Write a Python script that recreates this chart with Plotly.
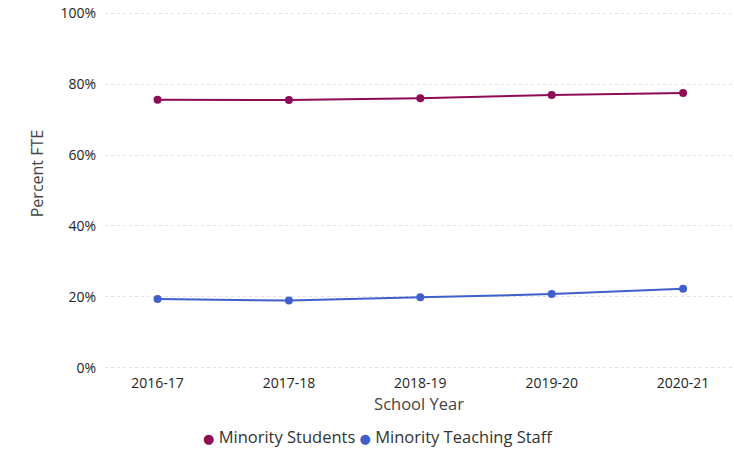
import plotly.graph_objects as go

# School years and the share of FTE for each group (percent)
school_years = ["2016-17", "2017-18", "2018-19", "2019-20", "2020-21"]
minority_students = [75.6, 75.5, 76.0, 76.9, 77.5]
minority_teaching_staff = [19.4, 19.0, 19.9, 20.8, 22.3]
y_ticks = [0, 20, 40, 60, 80, 100]
y_tick_labels = ["0%", "20%", "40%", "60%", "80%", "100%"]

student_color = "#8E0C56"
staff_color = "#3F5FCC"
font_family = "Open Sans, DejaVu Sans, sans-serif"

fig = go.Figure()
fig.add_trace(go.Scatter(
    x=school_years, y=minority_students, mode="lines+markers",
    name="Minority Students",
    line=dict(color=student_color, width=2),
    marker=dict(color=student_color, size=8),
    showlegend=False,
))
fig.add_trace(go.Scatter(
    x=school_years, y=minority_teaching_staff, mode="lines+markers",
    name="Minority Teaching Staff",
    line=dict(color=staff_color, width=2),
    marker=dict(color=staff_color, size=8),
    showlegend=False,
))

# Legend drawn as a single centred line of text with coloured dots
legend_text = (
    f'<span style="color:{student_color};font-size:13px">●</span> Minority Students '
    f'<span style="color:{staff_color};font-size:13px">●</span> Minority Teaching Staff'
)
fig.add_annotation(
    text=legend_text, xref="paper", yref="paper", x=0.435, y=-0.19,
    xanchor="center", yanchor="middle", showarrow=False,
    font=dict(family=font_family, size=16.5, color="#333333"),
)

# Y-axis title placed as a rotated label
fig.add_annotation(
    text="Percent FTE", xref="paper", yref="paper", x=-0.108, y=0.546,
    xanchor="center", yanchor="middle", textangle=-90, showarrow=False,
    font=dict(family=font_family, size=16, color="#444444"),
)

fig.update_layout(
    width=734, height=452,
    margin=dict(l=105, r=1, t=12, b=83),
    paper_bgcolor="white", plot_bgcolor="white",
    font=dict(family=font_family, color="#333333"),
)
fig.update_xaxes(
    type="category", range=[-0.4, 4.38],
    showgrid=False, showline=False, zeroline=False,
    ticks="", tickfont=dict(size=14, color="#252423"), ticklabelstandoff=4,
    title=dict(text="School Year", font=dict(size=16.5, color="#444444"), standoff=6),
)
fig.update_yaxes(
    range=[-0.3, 100.3], tickvals=y_ticks, ticktext=y_tick_labels,
    showgrid=True, gridcolor="#E3E3E3", griddash="dot", gridwidth=1,
    zeroline=False, showline=False, ticks="",
    tickfont=dict(size=14, color="#252423"), ticklabelstandoff=8,
)

fig.write_html("out.html")
